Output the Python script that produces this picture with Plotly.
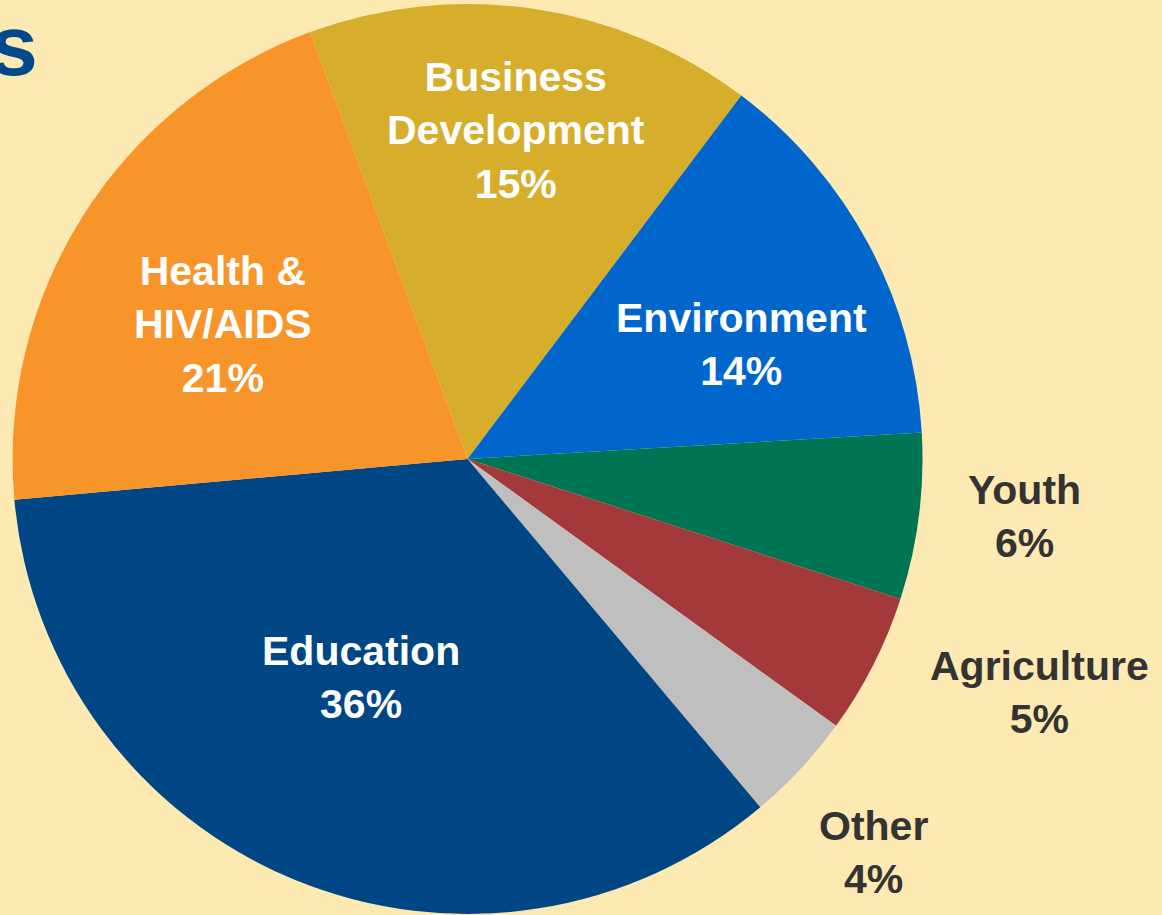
import math
import plotly.graph_objects as go

# Data (clockwise from the top-left boundary)
sectors = ["Business<br>Development", "Environment", "Youth", "Agriculture", "Other", "Education", "Health &<br>HIV/AIDS"]
shares = [15.9, 13.8, 5.9, 5.0, 3.9, 34.7, 20.8]          # slice sizes measured from the angles
pct_labels = [15, 14, 6, 5, 4, 36, 21]                    # percentages printed on the chart

# Styling
colors = ["#D7AE2C", "#0066CC", "#007553", "#A3393A", "#BFBFBF", "#004684", "#F7952B"]
text_colors = ["#FFFFFF", "#FFFFFF", "#333333", "#333333", "#333333", "#FFFFFF", "#FFFFFF"]
label_r = [0.729, 0.653, 1.231, 1.358, 1.242, 0.534, 0.614]     # label distance, in pie radii
label_dang = [0.0, 5.5, -1.4, -4.7, 1.2, 3.7, -3.5]             # label angle tweak from slice middle, deg

W, H = 1162, 915
bg = "#FDE9B2"
rotation = -20.25
dom_x = [0.0108, 0.7939]
dom_y = [0.0011, 0.9957]
FONT = "Liberation Sans, Arial, sans-serif"

fig = go.Figure(go.Pie(
    labels=[s.replace("<br>", " ") for s in sectors],
    values=shares,
    textinfo="none",
    sort=False,
    direction="clockwise",
    rotation=rotation,
    marker=dict(colors=colors, line=dict(width=0)),
    hoverinfo="label+percent",
    showlegend=False,
    domain=dict(x=dom_x, y=dom_y),
))

# Labels placed from each slice's middle angle
cx = (dom_x[0] + dom_x[1]) / 2 * W
cy = (1 - (dom_y[0] + dom_y[1]) / 2) * H
R = min((dom_x[1] - dom_x[0]) * W, (dom_y[1] - dom_y[0]) * H) / 2
total = sum(shares)
start = rotation
for name, v, p, col, rf, da in zip(sectors, shares, pct_labels, text_colors, label_r, label_dang):
    mid = start + v / total * 360 / 2
    start += v / total * 360
    a = math.radians(mid + da)
    px = cx + rf * R * math.sin(a)
    py = cy - rf * R * math.cos(a)
    fig.add_annotation(
        text=f"<b>{name}<br>{p}%</b>", xref="paper", yref="paper",
        x=px / W, y=1 - py / H, xanchor="center", yanchor="middle",
        showarrow=False, align="center",
        font=dict(family=FONT, size=41, color=col),
    )

fig.add_annotation(
    text="<b>s</b>", xref="paper", yref="paper", x=0, y=1,
    xanchor="right", yanchor="top", xshift=40, yshift=5, showarrow=False,
    font=dict(family=FONT, size=86, color="#004A8C"),
)

fig.update_layout(
    width=W, height=H,
    margin=dict(l=0, r=0, t=0, b=0),
    paper_bgcolor=bg, plot_bgcolor=bg,
    font=dict(family=FONT),
)

fig.write_html(
    "out.html",
    config={"displayModeBar": False},
    post_script="document.body.style.margin='0';document.body.style.background='%s';" % bg,
)
